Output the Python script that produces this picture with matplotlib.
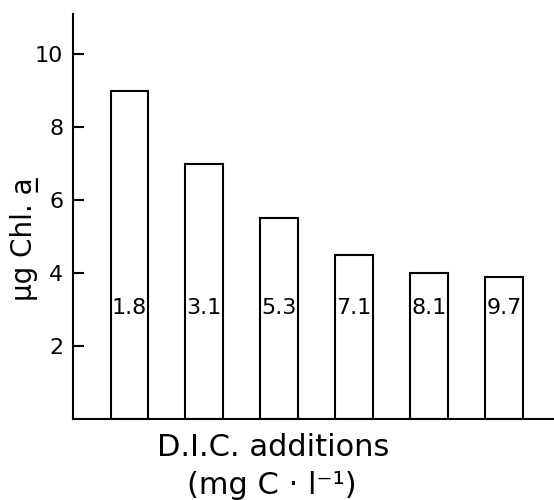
import matplotlib.pyplot as plt
import numpy as np

# Chlorophyll yield for each dissolved inorganic carbon addition
dic_added = ["1.8", "3.1", "5.3", "7.1", "8.1", "9.7"]
chl_a = [9.0, 7.0, 5.5, 4.5, 4.0, 3.9]
y_ticks = [2, 4, 6, 8, 10]
y_tick_labels = ["2", "4", "6", "8", "10"]

plt.rcParams['font.family'] = ['DejaVu Sans']

fig = plt.figure(figsize=(5.54, 5.00), dpi=100)
ax = fig.add_axes([0.132, 0.162, 0.868, 0.81])

x = np.arange(len(chl_a))
ax.bar(x, chl_a, width=0.5, facecolor='white', edgecolor='black', linewidth=1.5)

# value of each addition written inside its bar
for xi, lab in zip(x, dic_added):
    ax.text(xi, 3.05, lab, ha='center', va='center', fontsize=16)

ax.set_xlim(-0.75, 5.67)
ax.set_ylim(0, 11.1)
ax.set_yticks(y_ticks)
ax.set_yticklabels(y_tick_labels, fontsize=16)
ax.set_xticks([])
ax.tick_params(axis='y', direction='in', length=8, width=1.5, pad=7)

for side in ['top', 'right']:
    ax.spines[side].set_visible(False)
for side in ['left', 'bottom']:
    ax.spines[side].set_linewidth(1.5)

fig.text(0.045, 0.522, "\u03bcg Chl. a\u0332", rotation=90, ha='center', va='center', fontsize=20)
fig.text(0.493, 0.106, "D.I.C. additions", ha='center', va='center', fontsize=22)
fig.text(0.491, 0.03, "(mg C \u00b7 l\u207b\u00b9)", ha='center', va='center', fontsize=22)

fig.savefig('out.png', dpi=100)
